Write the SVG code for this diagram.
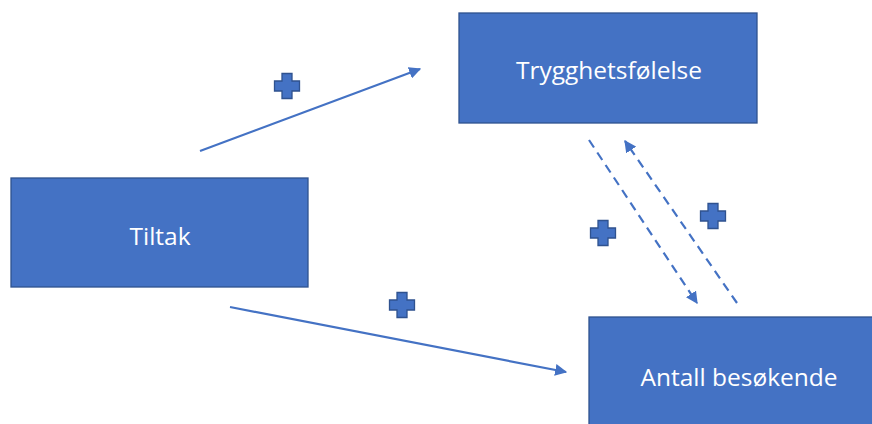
<svg xmlns="http://www.w3.org/2000/svg" width="872" height="424" viewBox="0 0 872 424">
<style>
.box{fill:#4472C4;stroke:#2F528F;stroke-width:1.3}
.lbl{fill:#FFFFFF;font-family:"Open Sans","Noto Sans",sans-serif;font-size:24.5px;text-anchor:middle}
.con{stroke:#4472C4;stroke-width:2.2;fill:none}
.dash{stroke-dasharray:9 6}
.plus{fill:#4472C4;stroke:#2F528F;stroke-width:1.3}
</style>
<defs>
<marker id="ah" viewBox="0 0 10 10" refX="9" refY="5" markerWidth="5.5" markerHeight="5.5" orient="auto" markerUnits="strokeWidth">
<path d="M0,0 L10,5 L0,10 z" fill="#4472C4"/>
</marker>
<path id="p" d="M-5,-12.5 H5 V-5 H12.5 V5 H5 V12.5 H-5 V5 H-12.5 V-5 H-5 Z"/>
</defs>
<rect width="872" height="424" fill="#FFFFFF"/>
<g id="connectors">
<line class="con" x1="200" y1="151" x2="420" y2="69" marker-end="url(#ah)"/>
<line class="con" x1="230" y1="307" x2="566" y2="372" marker-end="url(#ah)"/>
<line class="con dash" x1="589" y1="140" x2="697" y2="303" marker-end="url(#ah)"/>
<line class="con dash" x1="737" y1="303" x2="625" y2="141" marker-end="url(#ah)"/>
</g>
<g id="signs">
<use href="#p" class="plus" transform="translate(287,86)"/>
<use href="#p" class="plus" transform="translate(402,305)"/>
<use href="#p" class="plus" transform="translate(603,233)"/>
<use href="#p" class="plus" transform="translate(713,216)"/>
</g>
<g id="tiltak">
<rect class="box" x="11" y="178" width="297" height="109"/>
<text class="lbl" x="160" y="245">Tiltak</text>
</g>
<g id="trygghet">
<rect class="box" x="459" y="13" width="298" height="110"/>
<text class="lbl" x="609" y="79">Trygghetsfølelse</text>
</g>
<g id="antall">
<rect class="box" x="589" y="317" width="298" height="110"/>
<text class="lbl" x="739" y="386">Antall besøkende</text>
</g>
</svg>
